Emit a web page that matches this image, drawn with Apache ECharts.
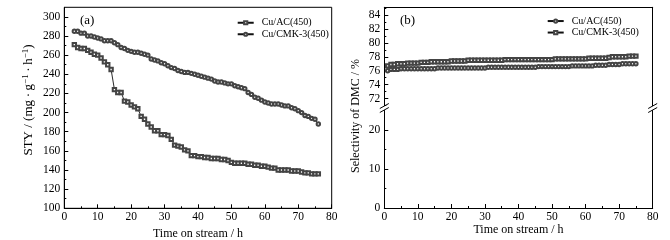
<!DOCTYPE html>
<html><head><meta charset="utf-8">
<script src="https://cdn.jsdelivr.net/npm/echarts@6/dist/echarts.min.js"></script>
<style>html,body{margin:0;padding:0;background:#fff}#c{width:670px;height:240px}</style>
</head><body><div id="c"></div><script>
// ---- data ----
const hoursSTY = [3,4,5,6,7,8,9,10,11,12,13,14,15,16,17,18,19,20,21,22,23,24,25,26,27,28,29,30,31,32,33,34,35,36,37,38,39,40,41,42,43,44,45,46,47,48,49,50,51,52,53,54,55,56,57,58,59,60,61,62,63,64,65,66,67,68,69,70,71,72,73,74,75,76];
const styAC = [271,268,267,267,265,263,261,260,257,253,
  250,245,224,221,221,212,211,208,206,204,
  196,193,188,185,181,181,177,177,176,172,
  166,165,164,161,160,155,155,154,154,153,
  153,152,152,152,151,151,150,148,147,147,
  147,147,146,146,145,145,144,144,143,142,
  142,140,140,140,140,139,139,139,138,137,
  137,136,136,136];
const styCMK = [285,285,283,283,280,280,279,278,277,275,
  275,275,273,271,268,267,265,264,263,263,
  262,261,260,256,255,254,252,251,249,247,
  246,244,243,242,242,241,240,239,238,237,
  236,235,233,232,232,231,230,230,228,227,
  226,225,221,219,216,215,213,211,210,209,
  209,209,208,207,207,205,204,202,200,197,
  196,194,193,188];
const hoursSel = [1,2,3,4,5,6,7,8,9,10,11,12,13,14,15,16,17,18,19,20,21,22,23,24,25,26,27,28,29,30,31,32,33,34,35,36,37,38,39,40,41,42,43,44,45,46,47,48,49,50,51,52,53,54,55,56,57,58,59,60,61,62,63,64,65,66,67,68,69,70,71,72,73,74,75];
const selCMK = [76.7,76.9,76.9,77.0,77.0,77.0,77.1,77.1,77.1,77.1,
  77.2,77.2,77.2,77.3,77.3,77.3,77.3,77.3,77.3,77.4,
  77.4,77.4,77.4,77.4,77.5,77.5,77.5,77.5,77.5,77.5,
  77.5,77.5,77.5,77.5,77.5,77.6,77.6,77.6,77.6,77.6,
  77.6,77.6,77.6,77.6,77.6,77.6,77.6,77.6,77.6,77.6,
  77.7,77.7,77.7,77.7,77.7,77.7,77.7,77.7,77.7,77.7,
  77.8,77.8,77.8,77.8,77.8,77.8,77.9,78.0,78.0,78.0,
  78.0,78.0,78.1,78.1,78.1];
const selAC = [76.0,76.2,76.2,76.2,76.3,76.3,76.3,76.3,76.3,76.3,
  76.3,76.3,76.3,76.3,76.3,76.4,76.4,76.4,76.4,76.4,
  76.4,76.4,76.4,76.4,76.4,76.4,76.4,76.4,76.4,76.4,
  76.5,76.5,76.5,76.5,76.5,76.5,76.5,76.5,76.5,76.5,
  76.5,76.5,76.5,76.5,76.5,76.6,76.6,76.6,76.6,76.6,
  76.6,76.6,76.6,76.6,76.6,76.7,76.7,76.7,76.7,76.7,
  76.7,76.7,76.8,76.8,76.8,76.8,76.9,76.9,76.9,76.9,
  77.0,77.0,77.0,77.0,77.0];
const styTicks = [100,120,140,160,180,200,220,240,260,280,300];
const styMinorTicks = [110,130,150,170,190,210,230,250,270,290];
const selUpperTicks = [72,74,76,78,80,82,84];
const selUpperMinor = [71,73,75,77,79,81,83,85];
const selLowerTicks = [0,10,20];
const selLowerMinor = [5,15];

// ---- chart ----
const FONT = 'Liberation Serif';
const BLACK = '#000';
const pairs = (xs, ys) => xs.map((x, i) => [x, ys[i]]);
const chart = echarts.init(document.getElementById('c'), null, {renderer: 'canvas'});

const lineStyle = {color: BLACK, width: 1};
const tickStyle = {color: BLACK, width: 1};
function xMain(gridIndex) {
  return {
    gridIndex, type: 'value', min: 0, max: 80, interval: 10, position: 'bottom',
    axisLine: {show: true, onZero: false, lineStyle},
    axisTick: {show: true, inside: true, length: 4, lineStyle: tickStyle},
    minorTick: {show: true, splitNumber: 2, length: 2, lineStyle: tickStyle},
    axisLabel: {color: BLACK, fontFamily: FONT, fontSize: 11.5, margin: 3},
    splitLine: {show: false},
    name: 'Time on stream / h', nameLocation: 'middle', nameGap: 15,
    nameTextStyle: {color: BLACK, fontFamily: FONT, fontSize: 12}
  };
}
function yMain(gridIndex, min, max, ticks) {
  return {
    gridIndex, type: 'value', min, max, position: 'left',
    axisLine: {show: true, onZero: false, lineStyle},
    axisTick: {show: true, inside: true, length: 4, lineStyle: tickStyle, customValues: ticks},
    axisLabel: {color: BLACK, fontFamily: FONT, fontSize: 11.5, margin: 4, customValues: ticks},
    splitLine: {show: false}
  };
}
function yMinor(gridIndex, min, max, ticks) {
  return {
    gridIndex, type: 'value', min, max, position: 'left',
    axisLine: {show: false, onZero: false},
    axisTick: {show: true, inside: true, length: 2, lineStyle: tickStyle, customValues: ticks},
    axisLabel: {show: false},
    splitLine: {show: false}
  };
}
function yRightLine(gridIndex, min, max) {
  return {
    gridIndex, type: 'value', min, max, position: 'right',
    axisLine: {show: true, onZero: false, lineStyle},
    axisTick: {show: false}, axisLabel: {show: false}, splitLine: {show: false}
  };
}
function lineSeries(name, xi, yi, data, symbol) {
  return {
    type: 'line', name, xAxisIndex: xi, yAxisIndex: yi, data, symbol, symbolSize: 3.4,
    lineStyle: {color: '#111', width: 0.9},
    itemStyle: {color: '#444', borderWidth: 0.8},
    emphasis: {disabled: true}, animation: false, z: 3
  };
}
const legendBase = {
  orient: 'vertical', padding: 0, itemGap: 0, itemWidth: 16, itemHeight: 4,
  selectedMode: false,
  formatter: n => n.trim(),
  textStyle: {color: BLACK, fontFamily: FONT, fontSize: 10, lineHeight: 11.5, padding: [0, 0, 0, 3]}
};

function breakMarks(x, y) {
  const st = {stroke: BLACK, lineWidth: 1};
  return [
    {type: 'line', shape: {x1: x - 4.5, y1: y + 0.5, x2: x + 4.5, y2: y - 4.5}, style: st, z: 100},
    {type: 'line', shape: {x1: x - 4.5, y1: y + 4.5, x2: x + 4.5, y2: y - 0.5}, style: st, z: 100}
  ];
}

const TS = '\u2009';
const option = {
  backgroundColor: '#fff',
  animation: false,
  grid: [
    {left: 64.3, top: 7.3, width: 267.4, height: 201, show: true, borderColor: BLACK, borderWidth: 1, backgroundColor: 'transparent', outerBoundsMode: 'none'},
    {left: 384.3, top: 7.3, width: 268.4, height: 98.35, outerBoundsMode: 'none'},
    {left: 384.3, top: 110.5, width: 268.4, height: 97.5, outerBoundsMode: 'none'}
  ],
  xAxis: [
    xMain(0),
    {gridIndex: 1, type: 'value', min: 0, max: 80, position: 'top',
     axisLine: {show: true, onZero: false, lineStyle}, axisTick: {show: false},
     axisLabel: {show: false}, splitLine: {show: false}},
    xMain(2)
  ],
  yAxis: [
    yMain(0, 100, 310, styTicks),
    yMinor(0, 100, 310, styMinorTicks),
    yMain(1, 71, 85.1, selUpperTicks),
    yMinor(1, 71, 85.1, selUpperMinor),
    yRightLine(1, 71, 85.1),
    yMain(2, 0, 25, selLowerTicks),
    yMinor(2, 0, 25, selLowerMinor),
    yRightLine(2, 0, 25)
  ],
  legend: [
    Object.assign({}, legendBase, {left: 236.7, top: 17, data: ['Cu/AC(450)', 'Cu/CMK-3(450)']}),
    Object.assign({}, legendBase, {left: 546.7, top: 15.3, data: ['Cu/AC(450) ', 'Cu/CMK-3(450) ']})
  ],
  series: [
    lineSeries('Cu/AC(450)', 0, 0, pairs(hoursSTY, styAC), 'emptyRect'),
    lineSeries('Cu/CMK-3(450)', 0, 0, pairs(hoursSTY, styCMK), 'emptyCircle'),
    lineSeries('Cu/AC(450) ', 1, 2, pairs(hoursSel, selAC), 'emptyCircle'),
    lineSeries('Cu/CMK-3(450) ', 1, 2, pairs(hoursSel, selCMK), 'emptyRect')
  ],
  graphic: [
    {type: 'text', x: 80, y: 21, style: {text: '(a)', fontFamily: FONT, fontSize: 13, fill: BLACK, align: 'left', verticalAlign: 'middle'}},
    {type: 'text', x: 400, y: 21, style: {text: '(b)', fontFamily: FONT, fontSize: 13, fill: BLACK, align: 'left', verticalAlign: 'middle'}},
    {type: 'text', x: 28.5, y: 100, rotation: Math.PI / 2,
     style: {text: '{a|STY / (mg' + TS + '·' + TS + 'g}{s|−1}{a|' + TS + '·' + TS + 'h}{s|−1}{a|)}', align: 'center', verticalAlign: 'middle', fill: BLACK,
       rich: {a: {fontFamily: FONT, fontSize: 13, lineHeight: 15, fill: BLACK},
              s: {fontFamily: FONT, fontSize: 9, lineHeight: 10, verticalAlign: 'top', fill: BLACK}}}},
    {type: 'text', x: 356, y: 116, rotation: Math.PI / 2,
     style: {text: 'Selectivity of DMC / %', fontFamily: FONT, fontSize: 12, fill: BLACK, align: 'center', verticalAlign: 'middle'}}
  ].concat(breakMarks(384.3, 108), breakMarks(652.7, 108))
};
chart.setOption(option);
</script></body></html>
